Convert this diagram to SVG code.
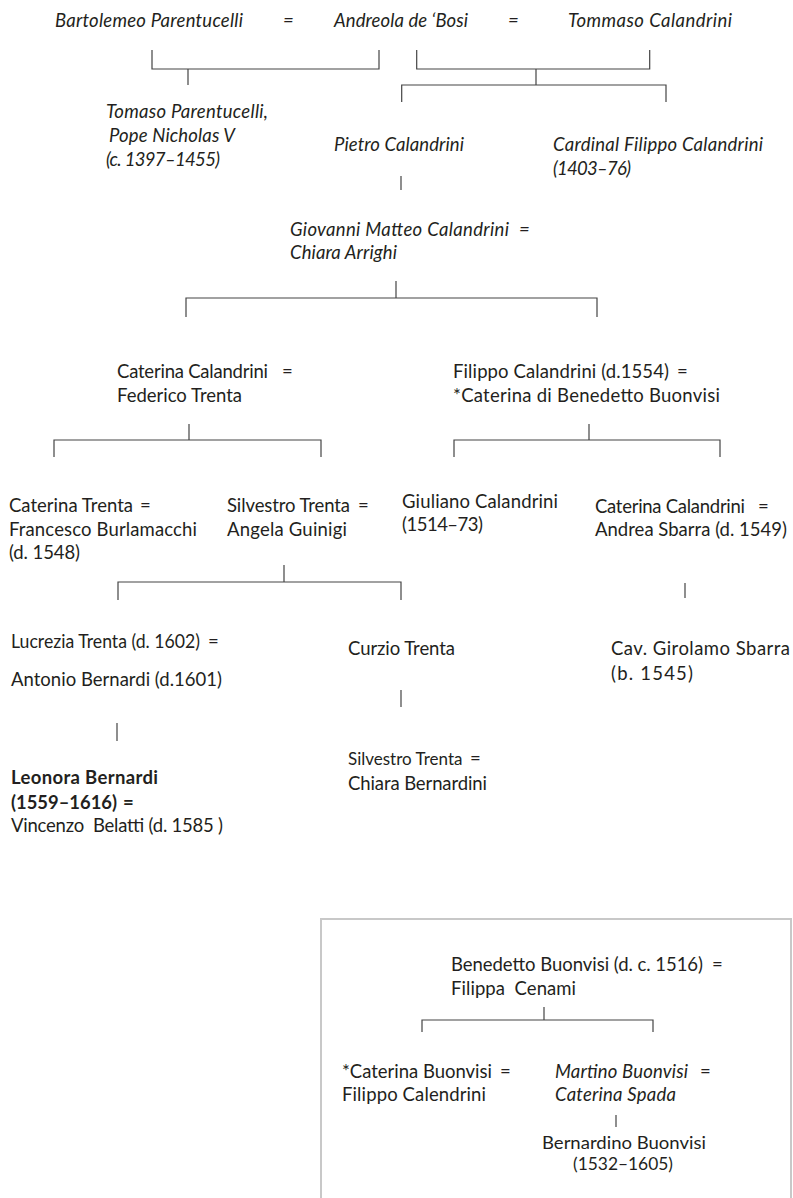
<svg xmlns="http://www.w3.org/2000/svg" width="793" height="1198" viewBox="0 0 793 1198">
<style>
text{font-family:Lato,"Open Sans","Liberation Sans",sans-serif;font-size:18.5px;fill:#231f20;white-space:pre;}
.i{font-style:italic;}
.b{font-weight:bold;}
.c{text-anchor:middle;}
.s{font-size:17px;}
.ln{fill:none;stroke:#444;stroke-width:1.2;}
</style>
<rect width="793" height="1198" fill="#fff"/>
<g id="connectors" class="ln">
<polyline points="152,50 152,69 379,69 379,50"/>
<line x1="188" y1="69" x2="188" y2="85"/>
<polyline points="416.7,50 416.7,69 649.7,69 649.7,50"/>
<line x1="536" y1="69" x2="536" y2="85"/>
<polyline points="401.7,102 401.7,85 666,85 666,102"/>
<line x1="401" y1="176" x2="401" y2="190"/>
<line x1="396" y1="281" x2="396" y2="298"/>
<polyline points="186,317 186,298 597,298 597,317"/>
<line x1="189" y1="424" x2="189" y2="440"/>
<polyline points="54,457 54,440 321,440 321,457"/>
<line x1="589" y1="424" x2="589" y2="440"/>
<polyline points="454,457 454,440 720,440 720,457"/>
<line x1="284" y1="565" x2="284" y2="582"/>
<polyline points="118,600 118,582 401,582 401,600"/>
<line x1="685" y1="583" x2="685" y2="598"/>
<line x1="117" y1="723" x2="117" y2="741"/>
<line x1="401" y1="690" x2="401" y2="707"/>
<line x1="544" y1="1007" x2="544" y2="1020"/>
<polyline points="422,1032 422,1020 653,1020 653,1032"/>
<line x1="616" y1="1115" x2="616" y2="1127"/>
</g>
<rect id="buonvisi-box" x="321" y="919" width="470" height="300" fill="none" stroke="#c8c8c8" stroke-width="2"/>
<g id="n1"><text class="i" x="55" y="27" textLength="188">Bartolemeo Parentucelli</text></g>
<g id="m1"><text class="i" x="283" y="27">=</text></g>
<g id="n2"><text class="i" x="334" y="27" textLength="134">Andreola de ‘Bosi</text></g>
<g id="m2"><text class="i" x="508" y="27">=</text></g>
<g id="n3"><text class="i" x="568" y="27" textLength="164">Tommaso Calandrini</text></g>
<g id="n4"><text class="i" x="106" y="118" textLength="162">Tomaso Parentucelli,</text><text class="i" x="109" y="142" textLength="126">Pope Nicholas V</text><text class="i" x="106" y="166" textLength="114">(c. 1397–1455)</text></g>
<g id="n5"><text class="i" x="334" y="151" textLength="130">Pietro Calandrini</text></g>
<g id="n6"><text class="i" x="553" y="151" textLength="210">Cardinal Filippo Calandrini</text><text class="i" x="553" y="175" textLength="78">(1403–76)</text></g>
<g id="n7"><text class="i" x="290" y="236" textLength="219">Giovanni Matteo Calandrini</text><text class="i" x="519" y="236">=</text><text class="i" x="290" y="259" textLength="107">Chiara Arrighi</text></g>
<g id="n8"><text x="117" y="378" textLength="151">Caterina Calandrini</text><text x="282" y="378">=</text><text x="117" y="402" textLength="125">Federico Trenta</text></g>
<g id="n9"><text x="453" y="378" textLength="216">Filippo Calandrini (d.1554)</text><text x="677" y="378">=</text><text x="453" y="402" textLength="267">*Caterina di Benedetto Buonvisi</text></g>
<g id="n10"><text x="9" y="512" textLength="124">Caterina Trenta</text><text x="140" y="512">=</text><text x="9" y="536" textLength="188">Francesco Burlamacchi</text><text x="9" y="559" textLength="71">(d. 1548)</text></g>
<g id="n11"><text x="227" y="512" textLength="123">Silvestro Trenta</text><text x="358" y="512">=</text><text x="227" y="536" textLength="120">Angela Guinigi</text></g>
<g id="n12"><text x="402" y="508" textLength="156">Giuliano Calandrini</text><text x="402" y="531" textLength="81">(1514–73)</text></g>
<g id="n13"><text x="595" y="513" textLength="150">Caterina Calandrini</text><text x="758" y="513">=</text><text x="595" y="536" textLength="192">Andrea Sbarra (d. 1549)</text></g>
<g id="n14"><text x="11" y="648" textLength="189" lengthAdjust="spacingAndGlyphs">Lucrezia Trenta (d. 1602)</text><text x="208" y="648">=</text><text x="11" y="686" textLength="211">Antonio Bernardi (d.1601)</text></g>
<g id="n15"><text x="348" y="655" textLength="107">Curzio Trenta</text></g>
<g id="n16"><text x="611" y="655" textLength="179">Cav. Girolamo Sbarra</text><text x="611" y="680" textLength="82">(b. 1545)</text></g>
<g id="n17"><text class="b" x="11" y="784" textLength="147">Leonora Bernardi</text><text class="b" x="11" y="809" textLength="106" lengthAdjust="spacingAndGlyphs">(1559–1616)</text><text class="b" x="123" y="809">=</text><text x="11" y="832" textLength="212">Vincenzo  Belatti (d. 1585 )</text></g>
<g id="n18"><text class="s" x="348" y="765">Silvestro Trenta</text><text x="470" y="765">=</text><text x="348" y="790" textLength="139">Chiara Bernardini</text></g>
<g id="n19"><text x="451" y="971" textLength="252">Benedetto Buonvisi (d. c. 1516)</text><text x="712" y="971">=</text><text x="451" y="995" textLength="125">Filippa  Cenami</text></g>
<g id="n20"><text x="342" y="1078" textLength="150">*Caterina Buonvisi</text><text x="500" y="1078">=</text><text x="342" y="1101" textLength="144">Filippo Calendrini</text></g>
<g id="n21"><text class="i" x="555" y="1078" textLength="133">Martino Buonvisi</text><text x="700" y="1078">=</text><text class="i" x="555" y="1101" textLength="121">Caterina Spada</text></g>
<g id="n22"><text class="c s" x="624" y="1149" textLength="164" lengthAdjust="spacingAndGlyphs">Bernardino Buonvisi</text><text class="c s" x="623" y="1170" textLength="100" lengthAdjust="spacingAndGlyphs">(1532–1605)</text></g>
</svg>
